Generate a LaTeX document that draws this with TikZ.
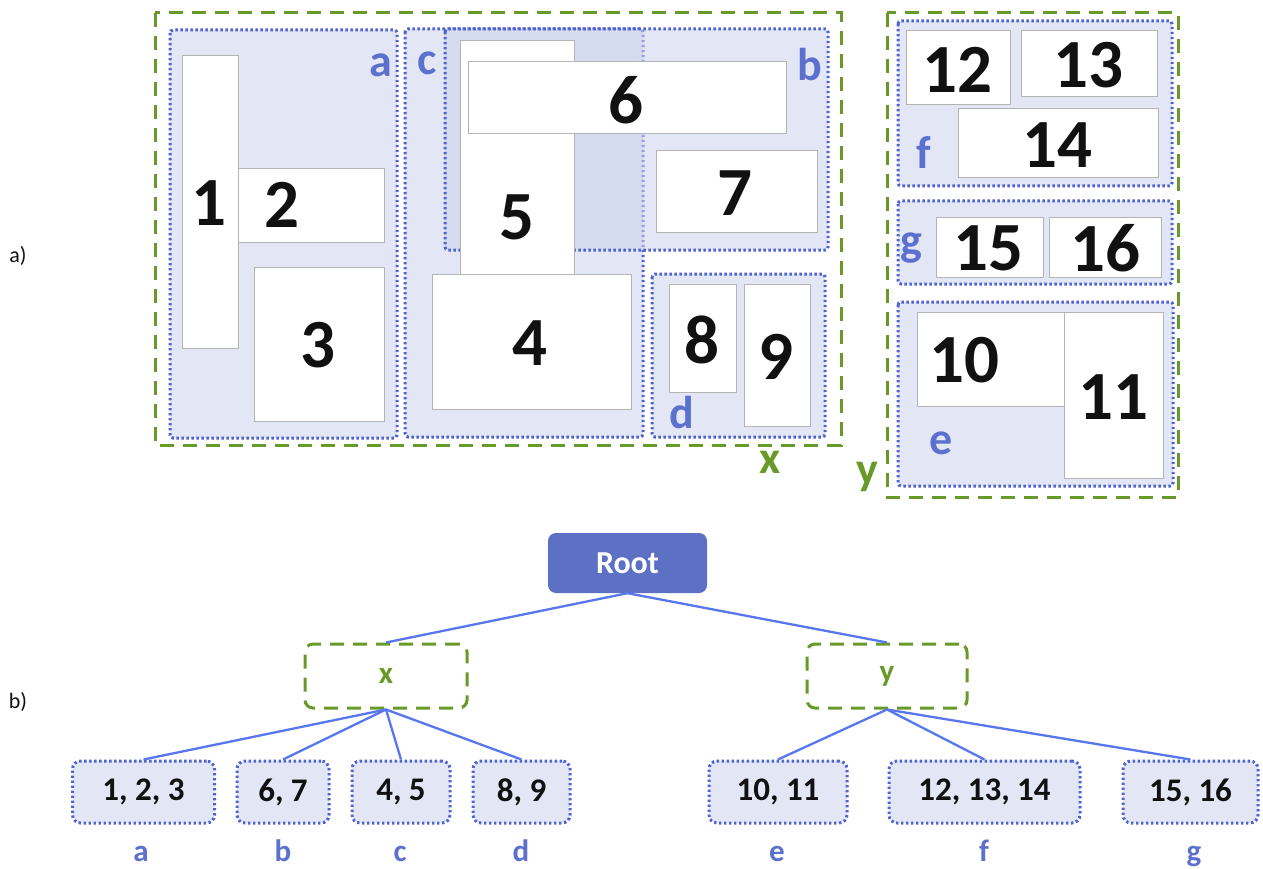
\documentclass[tikz,border=0pt]{standalone}
\usepackage{fontspec}
\setmainfont{Carlito}
\definecolor{grn}{RGB}{104,154,42}
\definecolor{dotblue}{RGB}{78,98,210}
\definecolor{grpfill}{RGB}{203,211,236}
\definecolor{lblblue}{RGB}{92,112,206}
\definecolor{rootblue}{RGB}{92,112,196}
\definecolor{linkblue}{RGB}{88,118,238}
\definecolor{boxgray}{RGB}{180,180,180}
\definecolor{ink}{RGB}{17,17,17}
\begin{document}
\begin{tikzpicture}[x=1pt,y=-1pt,
  grnbox/.style={draw=grn,line width=3pt,dash pattern=on 14pt off 9pt},
  grp/.style={draw=dotblue,line width=3pt,dash pattern=on 2.4pt off 2.6pt,
    fill=grpfill,fill opacity=0.54,rounded corners=3pt},
  wbox/.style={draw=boxgray,line width=1pt,fill=white},
  num/.style={font=\fontsize{69}{72}\selectfont\bfseries,text=ink,inner sep=0pt},
  glbl/.style={font=\fontsize{46}{50}\selectfont\bfseries,text=lblblue,inner sep=0pt},
  gglbl/.style={font=\fontsize{46}{50}\selectfont\bfseries,text=grn,inner sep=0pt},
  part/.style={font=\fontsize{22}{24}\selectfont,text=ink,inner sep=0pt},
  rootnode/.style={fill=rootblue,rounded corners=8pt,minimum width=159pt,minimum height=60pt,
    text=white,font=\fontsize{32}{36}\selectfont\bfseries,inner sep=0pt},
  midnode/.style={draw=grn,line width=3pt,dash pattern=on 14pt off 9pt,rounded corners=8pt,
    minimum height=64pt,text=grn,font=\fontsize{31}{34}\selectfont\bfseries,inner sep=0pt},
  leaf/.style={draw=dotblue,line width=3pt,dash pattern=on 2.4pt off 2.6pt,
    fill=grpfill,fill opacity=0.54,text opacity=1,rounded corners=8pt,minimum height=62pt,
    text=ink,font=\fontsize{33}{36}\selectfont\bfseries,inner sep=0pt},
  leaflbl/.style={anchor=base,text=lblblue,font=\fontsize{31}{34}\selectfont\bfseries,inner sep=0pt},
  link/.style={draw=linkblue,line width=2.3pt}
]
\useasboundingbox (0,0) rectangle (1263,869);

% ---------- part a): packing of rectangles ----------
\node[part] (pa) at (18,256) {a)};

% group x
\draw[grnbox] (155,13) rectangle (841,445);
\node[gglbl] (lx) at (770,462) {x};

% group a: rectangles 1, 2, 3
\draw[grp] (170,30) rectangle (397,438);
\draw[wbox] (238,169) rectangle (384,242);
\draw[wbox] (182,56) rectangle (238,348);
\draw[wbox] (254,267) rectangle (384,421);
\node[num] (n1) at (209,203) {1};
\node[num] (n2) at (282,205) {2};
\node[num] (n3) at (318,345) {3};
\node[glbl] (la) at (381,65) {a};

% group c (under) and group b (over)
\draw[grp] (405,29) rectangle (643,437);
\draw[grp] (445,29) rectangle (828,250);
\draw[wbox] (460,41) rectangle (574,274);
\draw[wbox] (468,62) rectangle (786,134);
\draw[wbox] (656,151) rectangle (817,232);
\draw[wbox] (432,274) rectangle (631,409);
\node[num] (n5) at (517,217) {5};
\node[num] (n6) at (626,100) {6};
\node[num] (n7) at (735,193) {7};
\node[num] (n4) at (530,343) {4};
\node[glbl] (lc) at (427,63) {c};
\node[glbl] (lb) at (810,65) {b};

% group d: rectangles 8, 9
\draw[grp] (652,274) rectangle (825,437);
\draw[wbox] (669,284) rectangle (736,392);
\draw[wbox] (744,284) rectangle (810,426);
\node[num] (n8) at (702,340) {8};
\node[num] (n9) at (776,357) {9};
\node[glbl] (ld) at (682,413) {d};

% group y
\draw[grnbox] (887,13) rectangle (1178,497);
\node[gglbl] (ly) at (867,477) {y};

% group f: rectangles 12, 13, 14
\draw[grp] (898,21) rectangle (1172,186);
\draw[wbox] (906,31) rectangle (1010,105);
\draw[wbox] (1021,31) rectangle (1157,97);
\draw[wbox] (958,109) rectangle (1158,178);
\node[num] (n12) at (957,70) {12};
\node[num] (n13) at (1088,65) {13};
\node[num] (n14) at (1057,145) {14};
\node[glbl] (lf) at (924,153) {f};

% group g: rectangles 15, 16
\draw[grp] (898,201) rectangle (1172,284);
\draw[wbox] (936,217) rectangle (1043,277);
\draw[wbox] (1049,217) rectangle (1161,277);
\node[num] (n15) at (988,248) {15};
\node[num] (n16) at (1105,248) {16};
\node[glbl] (lg) at (911,248) {g};

% group e: rectangles 10, 11
\draw[grp] (898,302) rectangle (1173,486);
\draw[wbox] (917,312) rectangle (1064,406);
\draw[wbox] (1064,312) rectangle (1163,478);
\node[num] (n10) at (964,360) {10};
\node[num] (n11) at (1113,397) {11};
\node[glbl] (le) at (941,443) {e};

% ---------- part b): the tree ----------
\node[part] (pb) at (18,702) {b)};

\node[rootnode] (root) at (627.5,563) {Root};
\node[midnode,minimum width=162pt] (tx) at (386,676) {x};
\node[midnode,minimum width=160pt] (ty) at (887,676) {y};

\node[leaf,minimum width=142pt] (ta) at (143.5,792) {1, 2, 3};
\node[leaf,minimum width=92pt]  (tb) at (283,792) {6, 7};
\node[leaf,minimum width=98pt]  (tc) at (401,792) {4, 5};
\node[leaf,minimum width=97pt]  (td) at (521.5,792) {8, 9};
\node[leaf,minimum width=138pt] (te) at (778,792) {10, 11};
\node[leaf,minimum width=191pt] (tf) at (984.5,792) {12, 13, 14};
\node[leaf,minimum width=135pt] (tg) at (1190.5,792) {15, 16};

\node[leaflbl] (ka) at (141,861) {a};
\node[leaflbl] (kb) at (283,861) {b};
\node[leaflbl] (kc) at (400,861) {c};
\node[leaflbl] (kd) at (521,861) {d};
\node[leaflbl] (ke) at (777,861) {e};
\node[leaflbl] (kf) at (984,861) {f};
\node[leaflbl] (kg) at (1194,861) {g};

\draw[link] (root.south) -- (tx.north);
\draw[link] (root.south) -- (ty.north);
\draw[link] (tx.south) -- (ta.north);
\draw[link] (tx.south) -- (tb.north);
\draw[link] (tx.south) -- (tc.north);
\draw[link] (tx.south) -- (td.north);
\draw[link] (ty.south) -- (te.north);
\draw[link] (ty.south) -- (tf.north);
\draw[link] (ty.south) -- (tg.north);
\end{tikzpicture}
\end{document}
